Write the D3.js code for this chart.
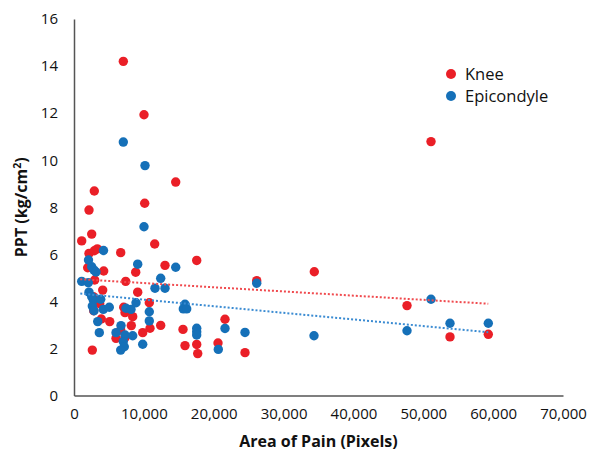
<!DOCTYPE html>
<html>
<head>
<meta charset="utf-8">
<script src="https://cdn.jsdelivr.net/npm/d3@7"></script>
<style>
  body { margin: 0; background: #fff; }
  svg text { font-family: "Open Sans", "Noto Sans", sans-serif; fill: #111; }
</style>
</head>
<body>
<div id="chart"></div>
<script>
// Knee: [area of pain (pixels), PPT (kg/cm2)]
const knee = [
  [7060,14.20],[10020,11.93],[14560,9.07],[2906,8.69],[10120,8.17],[2147,7.88],
  [2534,6.86],[1102,6.57],[11552,6.44],[2147,6.04],[2906,6.15],[3335,6.23],
  [6685,6.07],[1961,5.43],[4252,5.29],[8832,5.24],[13027,5.53],[17565,5.74],
  [2963,4.91],[7401,4.85],[4108,4.48],[9119,4.39],[10779,3.94],[2763,4.20],
  [3679,3.90],[2820,3.60],[7115,3.75],[7301,3.52],[8403,3.35],[3908,3.25],
  [5110,3.14],[8203,2.97],[10879,2.86],[12411,2.98],[6685,2.78],[6012,2.43],
  [9834,2.67],[7301,2.46],[2620,1.93],[15603,2.81],[15890,2.12],[17565,2.17],
  [17708,1.78],[20614,2.23],[21616,3.24],[24479,1.82],[26154,4.88],[34399,5.26],
  [47669,3.82],[51105,10.79],[53824,2.49],[59307,2.60]
];
// Epicondyle
const epicondyle = [
  [7057,10.77],[10164,9.77],[10020,7.17],[4223,6.16],[2076,5.76],[2534,5.47],
  [2863,5.33],[3149,5.25],[9119,5.58],[1102,4.85],[2047,4.79],[12411,4.98],
  [14560,5.45],[11595,4.56],[13027,4.56],[2147,4.39],[2534,4.20],[2763,4.06],
  [3822,4.09],[2620,3.80],[2863,3.60],[4194,3.66],[5053,3.75],[7444,3.71],
  [8160,3.66],[8875,3.94],[10779,3.56],[10779,3.17],[15890,3.88],[15646,3.68],
  [16133,3.68],[3393,3.14],[3622,2.67],[6728,2.97],[6012,2.67],[7301,2.57],
  [7057,2.29],[7200,2.07],[6685,1.93],[8403,2.54],[9834,2.18],[17565,2.86],
  [17565,2.71],[17565,2.57],[20657,1.96],[21616,2.85],[24479,2.68],[26154,4.77],
  [34356,2.54],[47669,2.75],[51105,4.09],[53824,3.07],[59307,3.07]
];
// linear trendline end points
const kneeTrend = [[900,4.94],[59300,3.90]];
const epiTrend = [[900,4.33],[59300,2.69]];

const xTicks = [0,10000,20000,30000,40000,50000,60000,70000];
const yTicks = [0,2,4,6,8,10,12,14,16];
const seriesNames = ["Knee","Epicondyle"];
const colors = ["#EA1F27","#1570B8"];
const trendColors = ["#F04A4E","#3A8BD2"];

const W=591, H=453;
const MG={t:19,r:28,b:57.5,l:74};
const iW=W-MG.l-MG.r, iH=H-MG.t-MG.b;

const svg=d3.select("#chart").append("svg").attr("width",W).attr("height",H);
const g=svg.append("g").attr("transform",`translate(${MG.l},${MG.t})`);

const x=d3.scaleLinear().domain([0,70000]).range([0,iW]);
const y=d3.scaleLinear().domain([0,16]).range([iH,0]);

// Axes (no tick marks)
const fmt=d3.format(",");
const xa=g.append("g").attr("transform",`translate(0,${iH})`)
  .call(d3.axisBottom(x).tickValues(xTicks).tickSize(0).tickPadding(13).tickFormat(d=>fmt(d)));
const ya=g.append("g")
  .call(d3.axisLeft(y).tickValues(yTicks).tickSize(0).tickPadding(16));
[xa,ya].forEach(a=>{
  a.select(".domain").attr("stroke","#555").attr("stroke-width",1.5);
  a.selectAll("text").attr("font-size",15).attr("fill","#111")
    .attr("font-family","'Open Sans', sans-serif");
});

// Points
const pts=g.append("g");
[knee,epicondyle].forEach((data,i)=>{
  pts.append("g").selectAll("circle").data(data).join("circle")
    .attr("cx",d=>x(d[0])).attr("cy",d=>y(d[1])).attr("r",4.7)
    .attr("fill",colors[i]);
});

// Trendlines
const line=d3.line().x(d=>x(d[0])).y(d=>y(d[1]));
[kneeTrend,epiTrend].forEach((t,i)=>{
  g.append("path").attr("d",line(t)).attr("fill","none")
    .attr("stroke",trendColors[i]).attr("stroke-width",2)
    .attr("stroke-dasharray","2,2");
});

// Axis titles
g.append("text").attr("x",iW/2).attr("y",iH+51).attr("text-anchor","middle")
  .attr("font-size",16).attr("font-weight","bold").text("Area of Pain (Pixels)");
const yt=g.append("text").attr("transform",`translate(${-47},${iH/2}) rotate(-90)`)
  .attr("text-anchor","middle").attr("font-size",16).attr("font-weight","bold");
yt.append("tspan").text("PPT (kg/cm");
yt.append("tspan").attr("font-size",10.5).attr("dy",-6).text("2");
yt.append("tspan").attr("dy",6).text(")");

// Legend
const leg=svg.append("g").attr("transform","translate(451,74)");
seriesNames.forEach((n,i)=>{
  const r=leg.append("g").attr("transform",`translate(0,${i*22})`);
  r.append("circle").attr("r",5).attr("fill",colors[i]);
  r.append("text").attr("x",14).attr("dy","0.35em").attr("font-size",16.5).text(n);
});
</script>
</body>
</html>
